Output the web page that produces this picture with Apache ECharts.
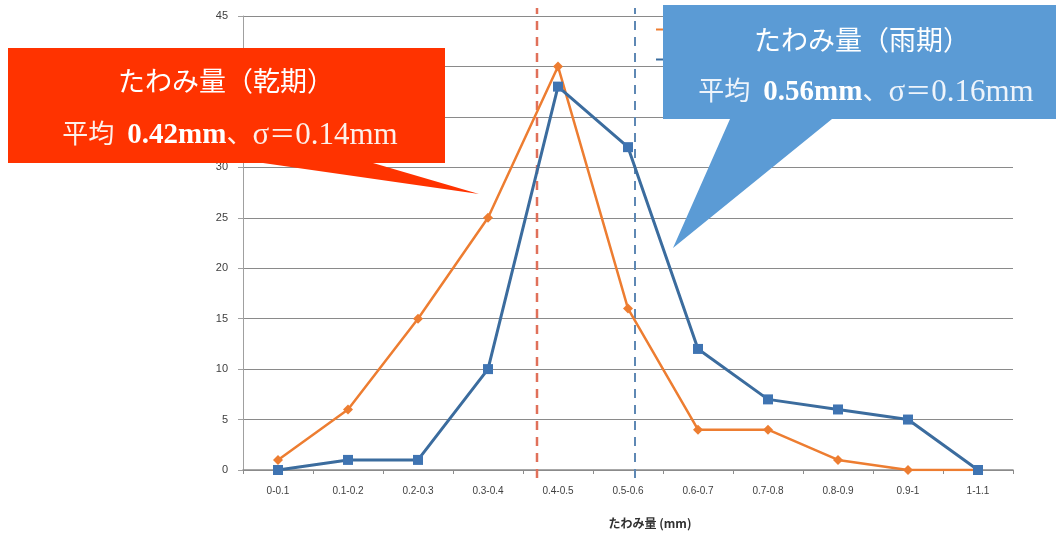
<!DOCTYPE html>
<html>
<head>
<meta charset="utf-8">
<script src="https://cdn.jsdelivr.net/npm/echarts@6/dist/echarts.min.js"></script>
<style>
  html, body { margin: 0; padding: 0; background: #ffffff; }
  #chart { width: 1056px; height: 540px; }
</style>
</head>
<body>
<div id="chart"></div>
<script>
// Deflection histogram (frequency per 0.1 mm bin), dry vs. rainy season
const categories = ['0-0.1', '0.1-0.2', '0.2-0.3', '0.3-0.4', '0.4-0.5', '0.5-0.6',
                    '0.6-0.7', '0.7-0.8', '0.8-0.9', '0.9-1', '1-1.1'];
const dryCounts = [1, 6, 15, 25, 40, 16, 4, 4, 1, 0, 0];
const wetCounts = [0, 1, 1, 10, 38, 32, 12, 7, 6, 5, 0];
const seriesNames = ['乾期', '雨期'];
const dryMean = 0.42, drySigma = 0.14;
const wetMean = 0.56, wetSigma = 0.16;
const yMin = 0, yMax = 45, yStep = 5;
const xTitle = 'たわみ量 (mm)';

const ORANGE = '#ED7D31';
const BLUE_LINE = '#3B6C9E';
const BLUE_MARK = '#3F74B2';
const RED_BOX = '#FF3300';
const BLUE_BOX = '#5B9BD5';

const chart = echarts.init(document.getElementById('chart'), null, { renderer: 'canvas' });

const serif = "'Liberation Serif', 'DejaVu Serif', 'Noto Sans CJK JP', serif";
const calloutText = (name, mean, sigma) => ({
  title: 'たわみ量（' + name + '）',
  body: '{c|平均  }{b|' + mean.toFixed(2) + 'mm}{c|、}{n|σ}{c|＝}{n|' + sigma.toFixed(2) + 'mm}'
});
const dryText = calloutText(seriesNames[0], dryMean, drySigma);
const wetText = calloutText(seriesNames[1], wetMean, wetSigma);

const bodyRich = (soft) => ({
  c: { fontSize: 26, fill: soft, fontFamily: serif },
  n: { fontSize: 31, fill: soft, fontFamily: serif },
  b: { fontSize: 29, fontWeight: 'bold', fill: '#ffffff', fontFamily: serif }
});

const option = {
  backgroundColor: '#ffffff',
  animation: false,
  legend: {
    data: seriesNames,
    orient: 'vertical',
    left: 650,
    top: 19,
    itemWidth: 26,
    itemHeight: 12,
    itemGap: 19,
    textStyle: { fontSize: 11, color: '#404040' },
    z: 2
  },
  grid: [
    { left: 243, right: 43, top: 16, bottom: 70 },
    { left: 243, right: 43, top: 8, bottom: 62 }
  ],
  xAxis: [
    {
      type: 'category',
      gridIndex: 0,
      data: categories,
      boundaryGap: true,
      axisLine: { lineStyle: { color: '#8c8c8c', width: 1.5 } },
      axisTick: { show: true, length: 4, inside: false, lineStyle: { color: '#8c8c8c' } },
      axisLabel: { color: '#404040', fontSize: 10, margin: 16, fontFamily: "'Liberation Sans', Arial, sans-serif" }
    },
    { type: 'value', gridIndex: 1, min: 0, max: 1.1, show: false }
  ],
  yAxis: [
    {
      type: 'value',
      gridIndex: 0,
      min: yMin,
      max: yMax,
      interval: yStep,
      axisLine: { show: true, lineStyle: { color: '#a0a0a0' } },
      axisTick: { show: true, length: 5, lineStyle: { color: '#a0a0a0' } },
      axisLabel: { color: '#404040', fontSize: 11, margin: 15, fontFamily: "'Liberation Sans', Arial, sans-serif" },
      splitLine: { show: true, lineStyle: { color: '#8a8a8a', width: 1.2 } }
    },
    { type: 'value', gridIndex: 1, min: 0, max: 1, show: false }
  ],
  series: [
    {
      name: seriesNames[0],
      type: 'line',
      xAxisIndex: 0, yAxisIndex: 0,
      data: dryCounts,
      symbol: 'diamond',
      symbolSize: 10,
      lineStyle: { color: ORANGE, width: 2.5 },
      itemStyle: { color: ORANGE },
      z: 3
    },
    {
      name: seriesNames[1],
      type: 'line',
      xAxisIndex: 0, yAxisIndex: 0,
      data: wetCounts,
      symbol: 'rect',
      symbolSize: 10,
      lineStyle: { color: BLUE_LINE, width: 3 },
      itemStyle: { color: BLUE_MARK },
      z: 4
    },
    {
      name: 'dryMean',
      type: 'line',
      xAxisIndex: 1, yAxisIndex: 1,
      data: [[dryMean, 0], [dryMean, 1]],
      symbol: 'none',
      silent: true,
      lineStyle: { color: '#E0705A', width: 2.5, type: [9, 7] },
      z: 2
    },
    {
      name: 'wetMean',
      type: 'line',
      xAxisIndex: 1, yAxisIndex: 1,
      data: [[wetMean, 0], [wetMean, 1]],
      symbol: 'none',
      silent: true,
      lineStyle: { color: '#5E88B4', width: 2, type: [9, 7] },
      z: 2
    }
  ],
  graphic: [
    {
      type: 'text',
      z: 50,
      x: 650, y: 523,
      style: {
        text: xTitle,
        fontSize: 12,
        fontWeight: 'bold',
        fill: '#303030',
        fontFamily: "'Noto Sans CJK JP', sans-serif",
        align: 'center',
        verticalAlign: 'middle'
      }
    },
    // dry-season callout
    {
      type: 'polygon',
      z: 100,
      shape: { points: [[8, 48], [445, 48], [445, 163], [373, 163], [479, 194], [263, 163], [8, 163]] },
      style: { fill: RED_BOX }
    },
    {
      type: 'text',
      z: 101,
      x: 226, y: 84,
      style: {
        text: dryText.title,
        fill: '#ffffff',
        fontSize: 27,
        fontFamily: serif,
        align: 'center',
        verticalAlign: 'middle'
      }
    },
    {
      type: 'text',
      z: 101,
      x: 230, y: 136,
      style: {
        text: dryText.body,
        align: 'center',
        verticalAlign: 'middle',
        rich: bodyRich('#fdf0ea')
      }
    },
    // rainy-season callout
    {
      type: 'polygon',
      z: 100,
      shape: { points: [[663, 5], [1056, 5], [1056, 119], [832, 119], [673, 248], [730, 119], [663, 119]] },
      style: { fill: BLUE_BOX }
    },
    {
      type: 'text',
      z: 101,
      x: 862, y: 43,
      style: {
        text: wetText.title,
        fill: '#ffffff',
        fontSize: 27,
        fontFamily: serif,
        align: 'center',
        verticalAlign: 'middle'
      }
    },
    {
      type: 'text',
      z: 101,
      x: 866, y: 93,
      style: {
        text: wetText.body,
        align: 'center',
        verticalAlign: 'middle',
        rich: bodyRich('#eef4fb')
      }
    }
  ]
};

chart.setOption(option);
</script>
</body>
</html>
